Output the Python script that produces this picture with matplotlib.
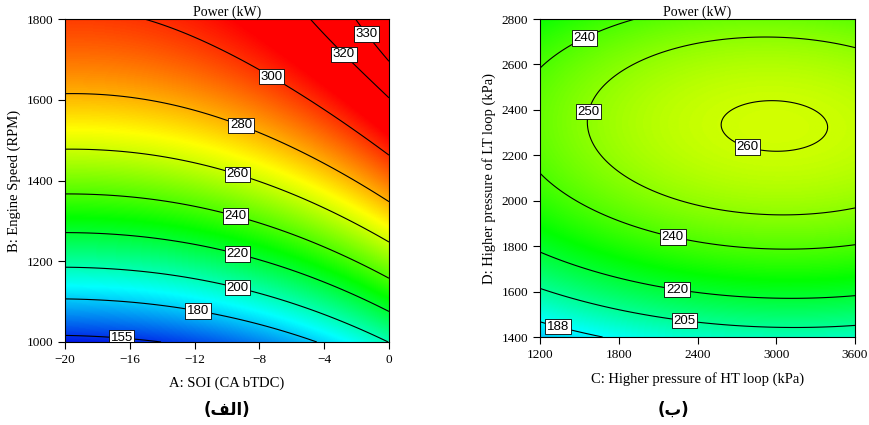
import numpy as np
import matplotlib
matplotlib.use("Agg")
import matplotlib.pyplot as plt
from matplotlib.colors import LinearSegmentedColormap, Normalize

# ---- points (x, y, contour level) ----
# left panel: A = SOI (CA bTDC), B = engine speed (RPM)
soi = [-20, -16.19, -13.52,
       -20, -15.17, -10.02, -4.98,
       -20, -15.17, -10.02, -4.98, 0,
       -20, -15.17, -10.02, -4.98, 0,
       -20, -15.17, -10.02, -4.98, 0,
       -20, -16.19, -13.10, -10.02, 0,
       -20, -16.19, -13.10, -9.81, -6.01, -2.92, 0,
       -15.06, -12.08, -9.81, -7.14, -3.95, 0,
       -4.98, -2.72, 0,
       -2.20, 0]
rpm = [1015, 1009, 1000,
       1106, 1100, 1063, 1001,
       1184, 1174, 1139, 1079, 1000,
       1271, 1261, 1224, 1170, 1079,
       1367, 1356, 1319, 1261, 1158,
       1480, 1471, 1447, 1422, 1248,
       1616, 1609, 1583, 1542, 1480, 1401, 1344,
       1800, 1752, 1711, 1665, 1595, 1463,
       1800, 1715, 1604,
       1800, 1694]
pw_a = [155] * 3 + [180] * 4 + [200] * 5 + [220] * 5 + [240] * 5 + [260] * 5 \
    + [280] * 7 + [300] * 6 + [320] * 3 + [330] * 2

# right panel: C = HT loop pressure (kPa), D = LT loop pressure (kPa)
ht = [2462, 3359, 2914, 2914,
      3600, 2914, 2178, 1797, 1568, 1784, 2305, 2940, 3600,
      1200, 1530, 1949, 1200, 1670, 2216, 2940, 3600,
      1200, 1670, 2249, 2940, 3600,
      1200, 1670, 2305, 2940, 3600,
      1200, 1345, 1568]
lt = [2326, 2319, 2455, 2189,
      2664, 2718, 2678, 2568, 2333, 2113, 2011, 1925, 1974,
      2546, 2726, 2796, 2113, 1967, 1852, 1776, 1809,
      1761, 1688, 1621, 1563, 1585,
      1597, 1533, 1487, 1435, 1453,
      1470, 1460, 1400]
pw_b = [260] * 4 + [250] * 9 + [240] * 8 + [220] * 5 + [205] * 5 + [188] * 3

levels_a = [155, 180, 200, 220, 240, 260, 280, 300, 320, 330]
levels_b = [188, 205, 220, 240, 250, 260]

labels_a = [(-16.5, 1012), (-11.73, 1090), (-9.26, 1149), (-9.26, 1233), (-9.38, 1324),
            (-9.26, 1428), (-9.0, 1550), (-7.14, 1665), (-2.72, 1715), (-1.3, 1765)]
labels_b = [(1345, 1460), (2305, 1487), (2249, 1621), (2216, 1852), (1530, 2726),
            (1568, 2392), (2762, 2200)]


def fit_surface(x, y, z, xr, yr, cubic=False):
    # polynomial response surface through the read contour points
    x = np.asarray(x, float); y = np.asarray(y, float); z = np.asarray(z, float)
    cx, sx = np.mean(xr), (xr[1] - xr[0]) / 2
    cy, sy = np.mean(yr), (yr[1] - yr[0]) / 2

    def terms(u, v):
        t = [np.ones_like(u), u, v, u * u, v * v, u * v]
        if cubic:
            t += [u ** 3, v ** 3, u * u * v, u * v * v]
        return np.stack(t, axis=-1)

    coef = np.linalg.lstsq(terms((x - cx) / sx, (y - cy) / sy), z, rcond=None)[0]
    gx = np.linspace(xr[0], xr[1], 300)
    gy = np.linspace(yr[0], yr[1], 300)
    X, Y = np.meshgrid(gx, gy)
    Z = terms((X - cx) / sx, (Y - cy) / sy) @ coef
    return X, Y, Z


cmap = LinearSegmentedColormap.from_list(
    "de", [(0, 0.05, 0.9), (0, 1, 1), (0, 1, 0), (1, 1, 0), (1, 0, 0)])
norm = Normalize(vmin=148, vmax=308)

plt.rcParams["font.family"] = "Liberation Serif"

fig = plt.figure(figsize=(8.7, 4.25), dpi=100)
ax1 = fig.add_axes([65 / 870, 1 - 342 / 425, 324 / 870, 323 / 425])
ax2 = fig.add_axes([540 / 870, 1 - 337 / 425, 315 / 870, 318 / 425])


def draw(ax, X, Y, Z, levels, lab_pos, xlim, ylim):
    ax.imshow(Z, extent=[xlim[0], xlim[1], ylim[0], ylim[1]], origin="lower",
              aspect="auto", cmap=cmap, norm=norm, interpolation="bilinear")
    cs = ax.contour(X, Y, Z, levels=levels, colors="black", linewidths=0.8)
    txts = ax.clabel(cs, manual=lab_pos, inline=False, fmt="%d", fontsize=9.5)
    for t in txts:
        t.set_rotation(0)
        t.set_family("Liberation Sans")
        t.set_bbox(dict(facecolor="white", edgecolor="black", linewidth=0.6, pad=1.2))
        t.set_zorder(5)
    ax.set_xlim(xlim)
    ax.set_ylim(ylim)
    ax.set_title("Power (kW)", fontsize=10, pad=2)
    ax.tick_params(labelsize=9.5, direction="out", length=5, width=0.8)
    for s in ax.spines.values():
        s.set_linewidth(0.8)


X, Y, Z = fit_surface(soi, rpm, pw_a, (-20, 0), (1000, 1800), cubic=True)
draw(ax1, X, Y, Z, levels_a, labels_a, (-20, 0), (1000, 1800))
ax1.set_xticks([-20, -16, -12, -8, -4, 0])
ax1.set_yticks([1000, 1200, 1400, 1600, 1800])
ax1.set_xlabel("A: SOI (CA bTDC)", fontsize=10.5, labelpad=8)
ax1.set_ylabel("B: Engine Speed (RPM)", fontsize=10.5, labelpad=4)

X, Y, Z = fit_surface(ht, lt, pw_b, (1200, 3600), (1400, 2800))
draw(ax2, X, Y, Z, levels_b, labels_b, (1200, 3600), (1400, 2800))
ax2.set_xticks([1200, 1800, 2400, 3000, 3600])
ax2.set_yticks([1400, 1600, 1800, 2000, 2200, 2400, 2600, 2800])
ax2.set_xlabel("C: Higher pressure of HT loop (kPa)", fontsize=10.5, labelpad=8)
ax2.set_ylabel("D: Higher pressure of LT loop (kPa)", fontsize=10.5, labelpad=4)

# Persian sub-captions (presentation forms, visual order)
fig.text(227 / 870, 1 - 410 / 425, "(\ufed2\ufedf\ufe8d)", ha="center", va="center",
         fontsize=12, fontweight="bold", family=["DejaVu Sans"])
fig.text(673 / 870, 1 - 410 / 425, "(\ufe8f)", ha="center", va="center",
         fontsize=12, fontweight="bold", family=["DejaVu Sans"])

fig.savefig("out.png", dpi=100)
